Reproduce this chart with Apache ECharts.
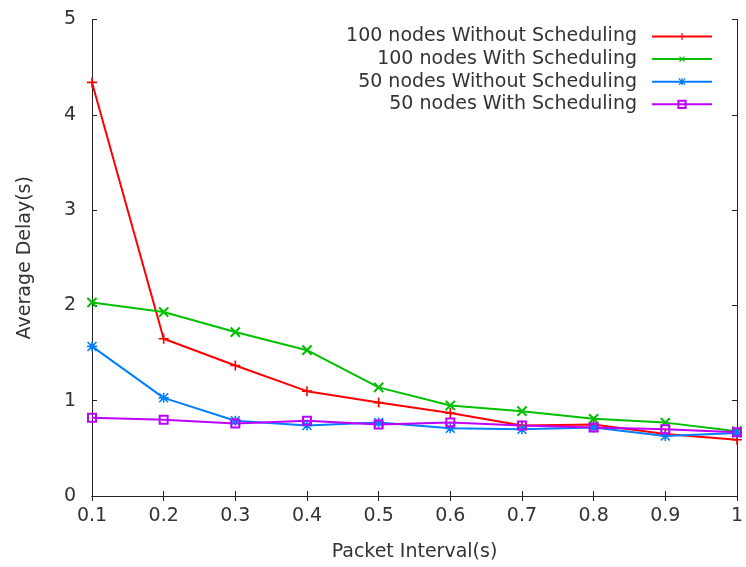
<!DOCTYPE html>
<html>
<head>
<meta charset="utf-8">
<script src="https://cdn.jsdelivr.net/npm/echarts@6/dist/echarts.min.js"></script>
<style>
  html, body { margin: 0; padding: 0; background: #fff; }
  #chart { width: 746px; height: 567px; }
</style>
</head>
<body>
<div id="chart"></div>
<script>
// packet intervals (s)
const intervals = ['0.1', '0.2', '0.3', '0.4', '0.5', '0.6', '0.7', '0.8', '0.9', '1'];

// average delay (s) per series
const n100NoSched = [4.34, 1.65, 1.37, 1.10, 0.98, 0.87, 0.74, 0.75, 0.65, 0.59];
const n100Sched   = [2.03, 1.93, 1.72, 1.53, 1.14, 0.95, 0.89, 0.81, 0.77, 0.68];
const n50NoSched  = [1.57, 1.03, 0.79, 0.74, 0.77, 0.71, 0.70, 0.72, 0.63, 0.66];
const n50Sched    = [0.82, 0.80, 0.76, 0.79, 0.75, 0.77, 0.74, 0.72, 0.70, 0.67];

const yTicks = [0, 1, 2, 3, 4, 5];

// marker shapes (gnuplot-like)
const plusPath = 'path://M4.2,0H5.8V4.2H10V5.8H5.8V10H4.2V5.8H0V4.2H4.2Z';
const starPath = 'path://M4.2,0H5.8V4.2H10V5.8H5.8V10H4.2V5.8H0V4.2H4.2Z' +
  'M1.1,0L5,3.9L8.9,0L10,1.1L6.1,5L10,8.9L8.9,10L5,6.1L1.1,10L0,8.9L3.9,5L0,1.1Z';

const font = 'DejaVu Sans';
const textColor = '#333';
const axisColor = '#222';

function mkSeries(name, data, color, symbol, size, rotate, hollow) {
  return {
    name: name,
    type: 'line',
    data: data,
    symbol: symbol,
    symbolSize: size,
    symbolRotate: rotate || 0,
    showAllSymbol: true,
    lineStyle: { color: color, width: 2 },
    itemStyle: hollow
      ? { color: 'rgba(255,255,255,0)', borderColor: color, borderWidth: 2 }
      : { color: color, borderWidth: 0 },
    emphasis: { disabled: true },
    animation: false
  };
}

const chart = echarts.init(document.getElementById('chart'));
chart.setOption({
  backgroundColor: '#fff',
  textStyle: { fontFamily: font },
  grid: { left: 92, right: 7, top: 19.5, bottom: 70 },
  legend: {
    orient: 'vertical',
    right: 33,
    top: 26.5,
    padding: 0,
    align: 'right',
    itemWidth: 60,
    itemHeight: 9,
    itemGap: 2.6,
    textStyle: {
      fontFamily: font, fontSize: 19, color: textColor,
      lineHeight: 20, padding: [0, 10, 0, 0]
    },
    data: [
      '100 nodes Without Scheduling',
      '100 nodes With Scheduling',
      '50 nodes Without Scheduling',
      '50 nodes With Scheduling'
    ]
  },
  xAxis: [
    {
      type: 'category',
      data: intervals,
      boundaryGap: false,
      name: 'Packet Interval(s)',
      nameLocation: 'middle',
      nameGap: 47,
      nameTextStyle: { fontFamily: font, fontSize: 19, color: textColor },
      axisLine: { lineStyle: { color: axisColor, width: 1 } },
      axisTick: { inside: true, length: 5, lineStyle: { color: axisColor } },
      axisLabel: { margin: 11, fontFamily: font, fontSize: 19, color: textColor },
      splitLine: { show: false }
    },
    {
      type: 'category',
      data: intervals,
      boundaryGap: false,
      position: 'top',
      axisLine: { lineStyle: { color: axisColor, width: 1 } },
      axisTick: { inside: true, length: 5, lineStyle: { color: axisColor } },
      axisLabel: { show: false },
      splitLine: { show: false }
    }
  ],
  yAxis: [
    {
      type: 'value',
      min: yTicks[0],
      max: yTicks[yTicks.length - 1],
      interval: 1,
      name: 'Average Delay(s)',
      nameLocation: 'middle',
      nameGap: 57,
      nameTextStyle: { fontFamily: font, fontSize: 19, color: textColor },
      axisLine: { show: true, lineStyle: { color: axisColor, width: 1 } },
      axisTick: { show: true, inside: true, length: 5, lineStyle: { color: axisColor } },
      axisLabel: { margin: 16, fontFamily: font, fontSize: 19, color: textColor },
      splitLine: { show: false }
    },
    {
      type: 'value',
      min: yTicks[0],
      max: yTicks[yTicks.length - 1],
      interval: 1,
      position: 'right',
      axisLine: { show: true, lineStyle: { color: axisColor, width: 1 } },
      axisTick: { show: true, inside: true, length: 5, lineStyle: { color: axisColor } },
      axisLabel: { show: false },
      splitLine: { show: false }
    }
  ],
  series: [
    mkSeries('100 nodes Without Scheduling', n100NoSched, '#ff0000', plusPath, 10, 0, false),
    mkSeries('100 nodes With Scheduling', n100Sched, '#00c000', plusPath, 13, 45, false),
    mkSeries('50 nodes Without Scheduling', n50NoSched, '#0080ff', starPath, 10, 0, false),
    mkSeries('50 nodes With Scheduling', n50Sched, '#c000ff', 'rect', 8, 0, true)
  ]
});
</script>
</body>
</html>
